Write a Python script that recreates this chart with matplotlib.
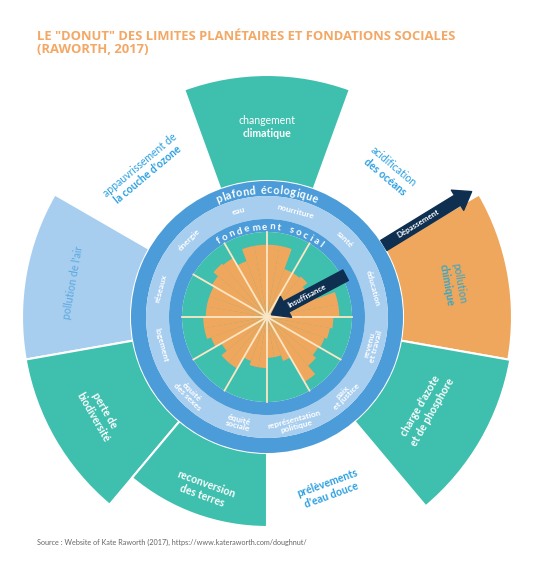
import numpy as np
import matplotlib
matplotlib.use('Agg')
import matplotlib.pyplot as plt

plt.rcParams['font.family'] = ['Lato', 'DejaVu Sans']

# planetary boundaries (outer sectors), counter-clockwise from east, 40 deg each
boundary_lines = [
    ("pollution", "chimique"),
    ("acidification", "des océans"),
    ("changement", "climatique"),
    ("appauvrissement de", "la couche d'ozone"),
    ("pollution de l'air",),
    ("perte de", "biodiversité"),
    ("reconversion", "des terres"),
    ("prélèvements", "d'eau douce"),
    ("charge d'azote", "et de phosphore"),
]
boundary_center = [10, 50, 90, 130, 170, 210, 250, 290, 330]
# outer radius of the overshoot sector (136 = ceiling, no overshoot drawn)
boundary_outer = [245, 136, 242, 136, 245, 245, 210, 136, 247]

# social foundation (inner disc), 30 deg each, counter-clockwise from east
social_labels = ["éducation", "santé", "nourriture", "eau", "énergie", "réseaux",
                 "logement", "équité\ndes sexes", "équité\nsociale",
                 "représentation\npolitique", "paix\net justice", "revenu\net travail"]
# shortfall reach of the three sub-wedges of each dimension (share of the disc)
shortfall = [
    [0.85, 0.85, 0.62],
    [0.55, 0.62, 0.60],
    [0.60, 0.85, 0.85],
    [0.85, 0.85, 0.70],
    [0.80, 0.82, 0.75],
    [0.72, 0.72, 0.72],
    [0.75, 0.75, 0.70],
    [0.62, 0.70, 0.70],
    [0.55, 0.60, 0.60],
    [0.48, 0.48, 0.55],
    [0.88, 0.75, 0.70],
    [0.72, 0.75, 0.78],
]

title = 'LE "DONUT" DES LIMITES PLANÉTAIRES ET FONDATIONS SOCIALES\n(RAWORTH, 2017)'
source = "Source : Website of Kate Raworth (2017), https://www.kateraworth.com/doughnut/"

# colours
TEAL = '#3fbfae'
ORANGE = '#eea75c'
LIGHT = '#a8ceef'
BAND = '#4b9cd8'
TXT_BLUE = '#2a9fe0'
NAVY = '#0e2f50'
CREAM = '#fbe7c6'

boundary_color = [ORANGE, None, TEAL, None, LIGHT, TEAL, TEAL, None, TEAL]
boundary_txt = ['#35a6c8', TXT_BLUE, 'white', TXT_BLUE, '#5aa8e0', 'white', 'white', TXT_BLUE, 'white']
boundary_weight = [('normal', 'bold'), ('normal', 'bold'), ('normal', 'bold'), ('normal', 'bold'),
                   ('normal',), ('bold', 'bold'), ('bold', 'bold'), ('bold', 'bold'), ('bold', 'bold')]
label_r = [189, 190, 190, 192, 197, 194, 184, 183, 184]

R_CORE, R_IN, R_LIGHT, R_CEIL = 85, 98, 121, 136

fig = plt.figure(figsize=(5.56, 5.66), dpi=100, facecolor='white')
ax = fig.add_axes([17 / 556, -1 / 566, 500 / 556, 500 / 566], projection='polar')
ax.set_ylim(0, 250)
ax.set_axis_off()
renderer = fig.canvas.get_renderer()

# outer overshoot sectors
for c, outer, col in zip(boundary_center, boundary_outer, boundary_color):
    if col is None or outer <= R_CEIL:
        continue
    ax.bar(np.radians(c), outer - R_CEIL, width=np.radians(40), bottom=R_CEIL,
           color=col, edgecolor='white', linewidth=1.5, zorder=1)

# rings
full = 2 * np.pi
ax.bar(np.pi, R_CEIL - R_LIGHT, width=full, bottom=R_LIGHT, color=BAND, zorder=2)
ax.bar(np.pi, R_LIGHT - R_IN, width=full, bottom=R_IN, color=LIGHT, zorder=2)
ax.bar(np.pi, R_IN - R_CORE, width=full, bottom=R_CORE, color=BAND, zorder=2)
ax.bar(np.pi, R_CORE, width=full, bottom=0, color=TEAL, zorder=2)

# shortfall wedges
for i, vals in enumerate(shortfall):
    for j, v in enumerate(vals):
        ax.bar(np.radians(30 * i + 10 * j), v * R_CORE, width=np.radians(10.2), bottom=0,
               align='edge', color=ORANGE, linewidth=0, zorder=3)
for i in range(12):
    a = np.radians(30 * i)
    ax.plot([a, a], [0, R_CORE], color=CREAM, lw=1.3, zorder=4)

# social labels
for i, lab in enumerate(social_labels):
    a = 30 * i + 15
    rot = a - 90 if a < 180 else a + 90
    ax.text(np.radians(a), (R_IN + R_LIGHT) / 2, lab, rotation=rot, rotation_mode='anchor',
            ha='center', va='center', color='white', fontsize=6.0, fontweight='bold',
            linespacing=0.9, zorder=6)


def arc_text(s, r, mid, size, track):
    widths = []
    for ch in s:
        t = ax.text(0, 0, ch if ch != ' ' else 'n', fontsize=size, fontweight='bold')
        w = t.get_window_extent(renderer).width
        t.remove()
        widths.append(w * 0.7 if ch == ' ' else w)
    widths = np.array(widths) + track
    pos = np.cumsum(widths) - widths / 2 - widths.sum() / 2
    for ch, p in zip(s, pos):
        a = mid - np.degrees(p / r)
        ax.text(np.radians(a), r, ch, rotation=a - 90, rotation_mode='anchor',
                ha='center', va='center_baseline', color='white', fontsize=size,
                fontweight='bold', zorder=6)


arc_text("plafond écologique", (R_LIGHT + R_CEIL) / 2 - 0.5, 90, 7.8, 0.6)
arc_text("fondement social", (R_CORE + R_IN) / 2 - 0.5, 88, 7, 2.4)

# boundary labels
for lines, c, r, col, wts in zip(boundary_lines, boundary_center, label_r, boundary_txt, boundary_weight):
    upper = 0 < c < 180
    rot = c - 90 if upper else c + 90
    if c == 90:
        rot = 0
    n = len(lines)
    for k, (line, w) in enumerate(zip(lines, wts)):
        off = 13 * ((n - 1) / 2 - k)
        rr = r + off if upper else r - off
        ax.text(np.radians(c), rr, line, rotation=rot, rotation_mode='anchor',
                ha='center', va='center', color=col, fontsize=7.6, fontweight=w, zorder=6)

# arrows
ax.annotate('', xy=(np.radians(28), 5), xytext=(np.radians(28), 89),
            arrowprops=dict(arrowstyle='simple,head_length=0.7,head_width=1.0,tail_width=0.5',
                            mutation_scale=17, color=NAVY, shrinkA=0, shrinkB=0), zorder=7)
ax.text(np.radians(28), 45, "Insuffisance", rotation=28, rotation_mode='anchor',
        ha='center', va='center', color='white', fontsize=5.7, fontweight='bold', zorder=8)
ax.annotate('', xy=(np.radians(31.5), 240), xytext=(np.radians(31.5), 137),
            arrowprops=dict(arrowstyle='simple,head_length=0.7,head_width=1.0,tail_width=0.5',
                            mutation_scale=17, color=NAVY, shrinkA=0, shrinkB=0), zorder=7)
ax.text(np.radians(31.7), 178, "Dépassement", rotation=31.5, rotation_mode='anchor',
        ha='center', va='center', color='white', fontsize=5.7, fontweight='bold', zorder=8)

fig.text(37 / 556, 1 - 43 / 566, title, ha='left', va='center', color='#f3a865',
         fontsize=9.4, fontweight='bold', linespacing=1.0, family=['Open Sans', 'DejaVu Sans'])
fig.text(37 / 556, 1 - 542 / 566, source, ha='left', va='center', color='#666666', fontsize=5.2)

fig.savefig('out.png', dpi=100, facecolor='white')
